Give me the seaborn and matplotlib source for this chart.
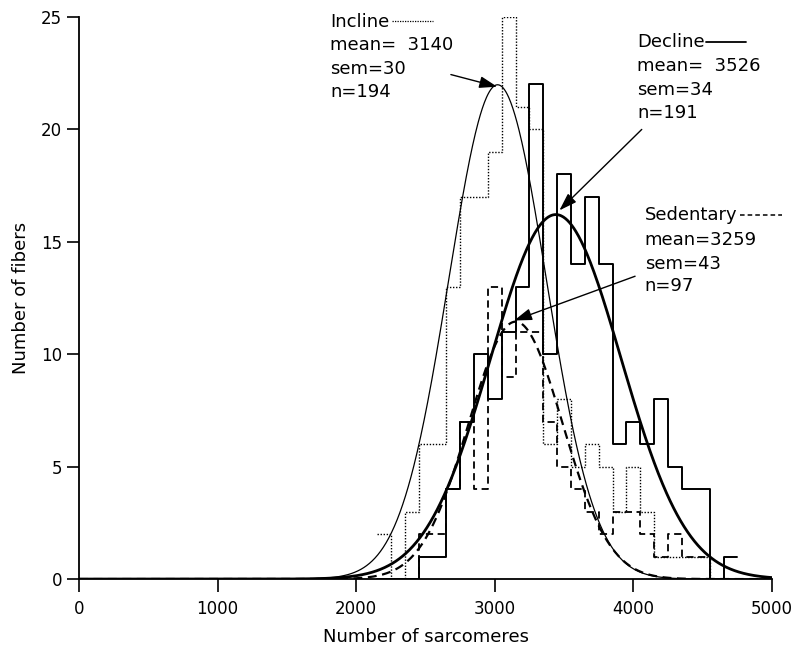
import numpy as np
import pandas as pd
import matplotlib
matplotlib.use("Agg")
import matplotlib.pyplot as plt
import seaborn as sns

# ---------------- data ----------------
bin_centers = [2200, 2300, 2400, 2500, 2600, 2700, 2800, 2900, 3000, 3100, 3200, 3300, 3400,
               3500, 3600, 3700, 3800, 3900, 4000, 4100, 4200, 4300, 4400, 4500, 4600, 4700]
incline_counts = [2, 0, 3, 6, 6, 13, 17, 17, 19, 25, 21, 20, 6,
                  8, 5, 6, 5, 3, 5, 3, 1, 1, 1, 1, 0, 0]
decline_counts = [0, 0, 0, 1, 1, 4, 7, 10, 8, 11, 13, 22, 10,
                  18, 14, 17, 14, 6, 7, 6, 8, 5, 4, 4, 0, 1]
sedentary_counts = [0, 0, 0, 2, 2, 4, 7, 4, 13, 9, 11, 11, 7,
                    5, 4, 3, 2, 3, 3, 2, 1, 2, 1, 1, 0, 0]
bin_width = 100

# normal curves drawn over the histograms (peak position, sd, n)
incline_fit = {"center": 3020, "sd": 352, "n": 194}
decline_fit = {"center": 3440, "sd": 470, "n": 191}
sedentary_fit = {"center": 3150, "sd": 338, "n": 97}

incline_text = ["Incline", "mean=  3140", "sem=30", "n=194"]
decline_text = ["Decline", "mean=  3526", "sem=34", "n=191"]
sedentary_text = ["Sedentary", "mean=3259", "sem=43", "n=97"]

x_ticks = [0, 1000, 2000, 3000, 4000, 5000]
y_ticks = [0, 5, 10, 15, 20, 25]
x_label = "Number of sarcomeres"
y_label = "Number of fibers"

# ---------------- style ----------------
sns.set_theme(style="ticks")
plt.rcParams["font.family"] = ["DejaVu Sans"]

fig = plt.figure(figsize=(7.95, 6.47), dpi=100)
ax = fig.add_axes([0.0994, 0.105, 0.8717, 0.8687])

lo = bin_centers[0] - bin_width / 2
hi = bin_centers[-1] + bin_width / 2

def hist(counts, **kw):
    df = pd.DataFrame({"x": bin_centers, "w": counts})
    sns.histplot(data=df, x="x", weights="w", binwidth=bin_width, binrange=(lo, hi),
                 element="step", fill=False, color="black", ax=ax, **kw)

hist(incline_counts, linewidth=1.0, linestyle=(0, (1, 1.2)))
hist(decline_counts, linewidth=1.4, linestyle="-")
hist(sedentary_counts, linewidth=1.3, linestyle=(0, (4, 2.5)))

xs = np.linspace(0, 5000, 1001)

def curve(fit, **kw):
    ys = fit["n"] * bin_width / (fit["sd"] * np.sqrt(2 * np.pi)) * \
        np.exp(-(xs - fit["center"]) ** 2 / (2 * fit["sd"] ** 2))
    sns.lineplot(x=xs, y=ys, color="black", ax=ax, **kw)

curve(incline_fit, linewidth=0.9)
curve(decline_fit, linewidth=2.0)
curve(sedentary_fit, linewidth=1.6, linestyle=(0, (4, 2.5)))

ax.set_xlim(0, 5000)
ax.set_ylim(0, 25)
ax.set_xticks(x_ticks)
ax.set_yticks(y_ticks)
ax.set_xlabel(x_label, fontsize=13, labelpad=7, color="black")
ax.set_ylabel(y_label, fontsize=13, labelpad=8, color="black")
ax.tick_params(axis="both", labelsize=12, length=9, width=1.2, color="black",
               labelcolor="black")
ax.tick_params(axis="x", pad=6)
ax.tick_params(axis="y", pad=3)
for s in ["top", "right"]:
    ax.spines[s].set_visible(False)
for s in ["left", "bottom"]:
    ax.spines[s].set_linewidth(1.3)
    ax.spines[s].set_color("black")
ax.set_facecolor("white")

# ---------------- annotations ----------------
def block(lines, x, ys):
    for t, y in zip(lines, ys):
        ax.text(x, y, t, fontsize=13, ha="left", va="center", color="black",
                clip_on=False)

block(incline_text, 1812, [24.8, 23.77, 22.7, 21.65])
block(decline_text, 4026, [23.88, 22.84, 21.76, 20.72])
block(sedentary_text, 4081, [16.18, 15.1, 14.03, 13.02])

ax.plot([2257, 2557], [24.82, 24.82], color="black", lw=0.9, ls=(0, (1, 1)), clip_on=False)
ax.plot([4523, 4812], [23.91, 23.91], color="black", lw=1.3, clip_on=False)
ax.plot([4770, 5070], [16.18, 16.18], color="black", lw=1.1, ls=(0, (3, 2)), clip_on=False)

arrow = dict(arrowstyle="-|>,head_length=0.9,head_width=0.3", color="black",
             lw=1.0, shrinkA=0, shrinkB=0)
ax.annotate("", xy=(3017, 21.9), xytext=(2683, 22.44), arrowprops=arrow)
ax.annotate("", xy=(3466, 16.4), xytext=(4060, 20.0), arrowprops=arrow)
ax.annotate("", xy=(3139, 11.5), xytext=(4012, 13.47), arrowprops=arrow)

fig.savefig("out.png", dpi=100, facecolor="white")
